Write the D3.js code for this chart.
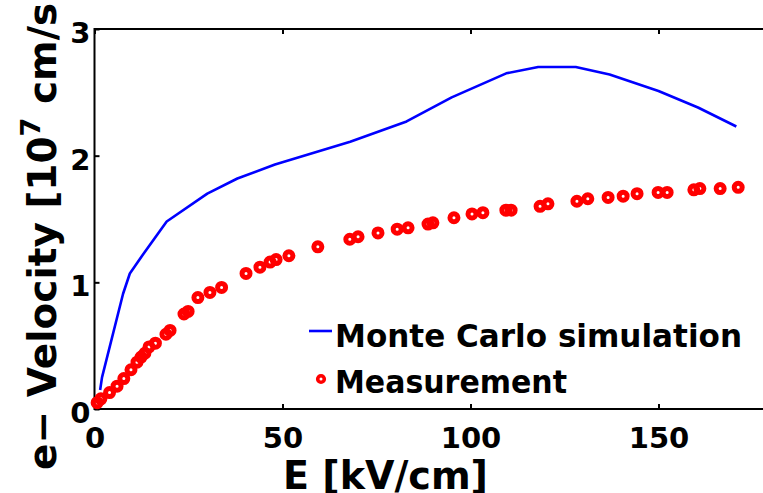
<!DOCTYPE html>
<html lang="en">
<head>
    <meta charset="UTF-8">
    <title>Electron drift velocity</title>
    <script src="https://cdn.jsdelivr.net/npm/d3@7"></script>
    <style>
        body {
            margin: 0;
            background-color: #fff;
            overflow: hidden;
        }

        svg {
            display: block;
        }

        text {
            font-family: 'DejaVu Sans', sans-serif;
            font-weight: bold;
        }
    </style>
</head>
<body>
    <svg id="chart" width="763" height="493"></svg>

    <script>
        const width = 763;
        const height = 493;

        // Monte Carlo simulation (line)
        const mcField = [1.5, 2, 7.6, 9.4, 12.9, 19.2, 30, 38, 48, 68, 83, 95, 109.5, 118, 128, 137, 150, 160.5, 170.7];
        const mcVelocity = [0.15, 0.25, 0.91, 1.07, 1.22, 1.48, 1.70, 1.82, 1.93, 2.11, 2.27, 2.46, 2.65, 2.70, 2.70, 2.64, 2.51, 2.38, 2.23];

        // Measurement (markers)
        const measField = [0.7, 1.7, 4.0, 6.0, 7.8, 9.7, 11.3, 12.4, 13.4, 14.5, 16.2, 19.0, 20.1, 23.8, 24.9, 27.5, 30.7, 33.8,
            40.3, 44.0, 46.7, 48.3, 51.7, 59.4, 67.9, 70.1, 75.4, 80.5, 83.4, 88.7, 90.0, 95.6, 100.4, 103.3, 109.4, 110.8,
            118.5, 120.6, 128.3, 131.2, 136.6, 140.6, 144.3, 149.9, 152.3, 159.4, 161.0, 166.4, 171.2];
        const measVelocity = [0.05, 0.08, 0.13, 0.18, 0.24, 0.31, 0.37, 0.41, 0.44, 0.49, 0.52, 0.59, 0.62, 0.75, 0.77, 0.88, 0.92, 0.96,
            1.07, 1.12, 1.16, 1.18, 1.21, 1.28, 1.34, 1.36, 1.39, 1.42, 1.43, 1.46, 1.47, 1.51, 1.54, 1.55, 1.57, 1.57,
            1.60, 1.62, 1.64, 1.66, 1.67, 1.68, 1.70, 1.71, 1.71, 1.73, 1.74, 1.74, 1.75];

        const xTicks = [0, 50, 100, 150];
        const yTicks = [0, 1, 2, 3];
        const legendLabels = ["Monte Carlo simulation", "Measurement"];

        const svg = d3.select("#chart");

        const x = d3.scaleLinear().domain([0, 180]).range([94.5, 771.3]);
        const y = d3.scaleLinear().domain([0, 3]).range([409, 29]);

        // axes box
        svg.append("rect")
            .attr("x", x(0))
            .attr("y", y(3))
            .attr("width", x(180) - x(0))
            .attr("height", y(0) - y(3))
            .attr("fill", "none")
            .attr("stroke", "#000")
            .attr("stroke-width", 2);

        const xAxis = svg.append("g")
            .attr("transform", `translate(0,${y(0)})`)
            .call(d3.axisBottom(x).tickValues(xTicks).tickSize(-5).tickSizeOuter(0).tickFormat(d3.format("d")));
        xAxis.select(".domain").remove();
        xAxis.selectAll("line").attr("stroke-width", 2);
        xAxis.selectAll("text")
            .attr("dy", null)
            .attr("y", 39)
            .attr("fill", "#000")
            .style("font-size", "29px");

        const xTop = svg.append("g")
            .attr("transform", `translate(0,${y(3)})`)
            .call(d3.axisTop(x).tickValues(xTicks).tickSize(-5).tickSizeOuter(0).tickFormat(""));
        xTop.select(".domain").remove();
        xTop.selectAll("line").attr("stroke-width", 2);

        const yAxis = svg.append("g")
            .attr("transform", `translate(${x(0)},0)`)
            .call(d3.axisLeft(y).tickValues(yTicks).tickSize(-5).tickSizeOuter(0).tickFormat(d3.format("d")));
        yAxis.select(".domain").remove();
        yAxis.selectAll("line").attr("stroke-width", 2);
        yAxis.selectAll("text")
            .attr("dy", null)
            .attr("x", -4)
            .attr("y", 13.5)
            .attr("fill", "#000")
            .style("font-size", "29px");

        // simulation line
        const line = d3.line()
            .x((d, i) => x(mcField[i]))
            .y(d => y(d));

        svg.append("path")
            .datum(mcVelocity)
            .attr("d", line)
            .attr("fill", "none")
            .attr("stroke", "#0000ff")
            .attr("stroke-width", 2.6)
            .attr("stroke-linejoin", "round");

        // measurement markers
        svg.append("g")
            .selectAll("circle")
            .data(measVelocity)
            .join("circle")
            .attr("cx", (d, i) => x(measField[i]))
            .attr("cy", d => y(d))
            .attr("r", 4)
            .attr("fill", "none")
            .attr("stroke", "#ff0000")
            .attr("stroke-width", 5);

        // legend
        svg.append("line")
            .attr("x1", 309).attr("x2", 332)
            .attr("y1", 331).attr("y2", 331)
            .attr("stroke", "#0000ff")
            .attr("stroke-width", 2.6);

        svg.append("circle")
            .attr("cx", 321).attr("cy", 379)
            .attr("r", 3.3)
            .attr("fill", "none")
            .attr("stroke", "#ff0000")
            .attr("stroke-width", 3.6);

        svg.append("text")
            .attr("x", 335).attr("y", 347)
            .attr("textLength", 407)
            .attr("lengthAdjust", "spacingAndGlyphs")
            .style("font-size", "32px")
            .text(legendLabels[0]);

        svg.append("text")
            .attr("x", 335).attr("y", 393)
            .attr("textLength", 232)
            .attr("lengthAdjust", "spacingAndGlyphs")
            .style("font-size", "32px")
            .text(legendLabels[1]);

        // axis labels
        svg.append("text")
            .attr("x", 283).attr("y", 489)
            .attr("textLength", 205)
            .attr("lengthAdjust", "spacingAndGlyphs")
            .style("font-size", "39px")
            .text("E [kV/cm]");

        const yLabel = svg.append("text")
            .attr("transform", "translate(56,470) rotate(-90)")
            .style("font-size", "39px");
        yLabel.append("tspan").text("e\u2212 Velocity [10");
        yLabel.append("tspan").attr("dy", -16).style("font-size", "27px").text("7");
        yLabel.append("tspan").attr("dy", 16).text(" cm/s]");
    </script>
</body>
</html>
